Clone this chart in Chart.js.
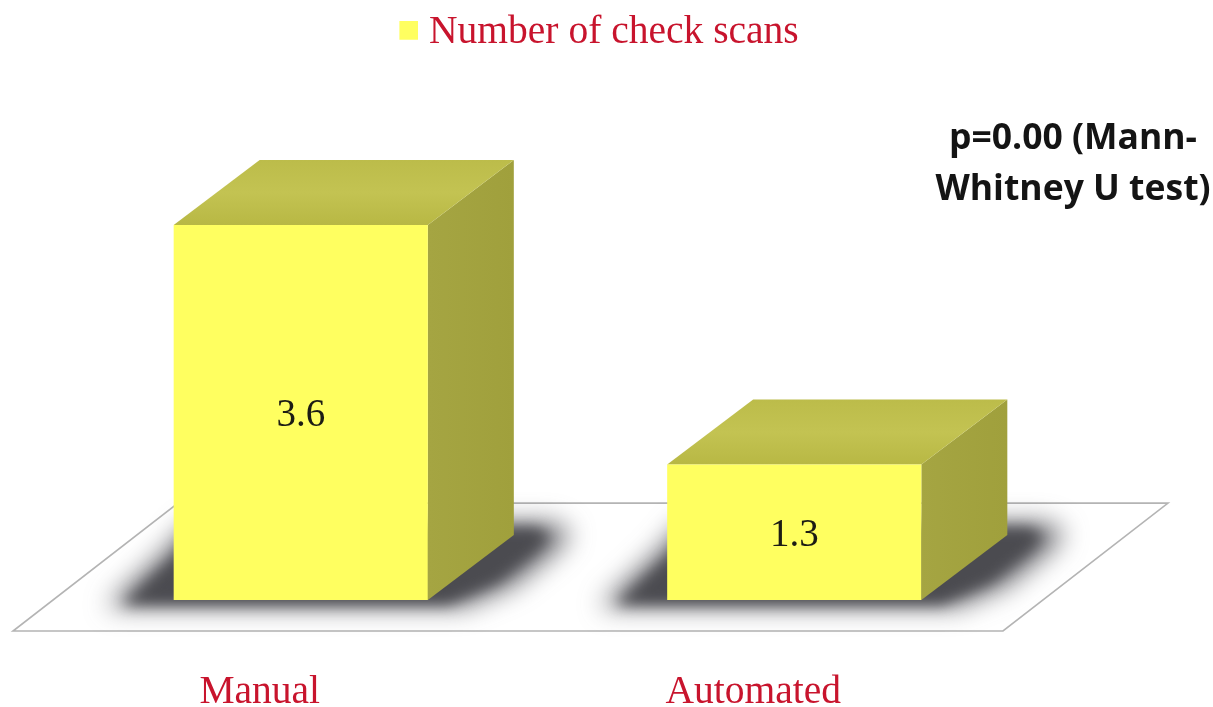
<!DOCTYPE html>
<html><head><meta charset="utf-8">
<style>html,body{margin:0;padding:0;background:#fff}canvas{display:block}</style>
<script src="https://cdn.jsdelivr.net/npm/chart.js@4/dist/chart.umd.min.js"></script>
</head><body><canvas id="c" width="1213" height="707"></canvas>
<script>
const categories = ["Manual", "Automated"];
const seriesName = "Number of check scans";
const scans = [3.6, 1.3];
const valueLabels = ["3.6", "1.3"];
const noteLines = ["p=0.00 (Mann-", "Whitney U test)"];

const RED = "#c8142d", YELLOW = "#ffff60";
const SERIF = '"Liberation Serif", serif';
const DX = 86, DY = -65;

const swatch = document.createElement("canvas");
swatch.width = 31; swatch.height = 24;
const sw = swatch.getContext("2d");
sw.fillStyle = YELLOW; sw.fillRect(12, 0, 19, 19);

function poly(ctx, pts) {
  ctx.beginPath();
  pts.forEach((p, i) => i ? ctx.lineTo(p[0], p[1]) : ctx.moveTo(p[0], p[1]));
  ctx.closePath();
}

const scene = {
  id: "scene",
  beforeLayout(chart) {
    const lg = chart.legend;
    if (lg && !lg._wrapped) {
      const f = lg.fit;
      lg.fit = function () { f.call(this); this.height = 183.3; };
      lg._wrapped = true;
    }
  },
  afterLayout(chart) {
    chart.legend.left += 50;
    chart.legend.right += 50;
  },
  beforeDatasetsDraw(chart) {
    const ctx = chart.ctx, a = chart.chartArea;
    const bars = chart.getDatasetMeta(0).data;
    // floor
    ctx.save();
    const by = a.bottom + 31, ty = a.bottom + DY * 1.49;
    poly(ctx, [[a.left - 41, by], [a.right - 38, by], [a.right + 127, ty], [a.left + 124, ty]]);
    ctx.fillStyle = "#ffffff"; ctx.fill();
    ctx.strokeStyle = "#b4b4b4"; ctx.lineWidth = 1.6; ctx.stroke();
    ctx.restore();
    // cast shadows: a wide soft pass, then a tighter dark core
    bars.forEach(b => {
      const x0 = b.x - b.width / 2, x1 = b.x + b.width / 2, y = b.base;
      ctx.save();
      ctx.filter = "blur(13px)";
      ctx.fillStyle = "rgba(70,70,76,0.75)";
      poly(ctx, [
        [x0 - 68, y + 7], [x1 + 36, y + 7], [x1 + 86, y - 14], [x1 + 126, y - 46],
        [x1 + 144, y - 66], [x1 + 126, y - 78], [x1, y - 78], [x0 + 16, y - 78],
        [x0 - 10, y - 48], [x0 - 44, y - 16]
      ]);
      ctx.fill();
      ctx.filter = "blur(7px)";
      ctx.fillStyle = "#4b4b50";
      poly(ctx, [
        [x0 - 52, y + 4], [x1 + 20, y + 4], [x1 + 70, y - 18], [x1 + 108, y - 48],
        [x1 + 122, y - 64], [x1 + 108, y - 72], [x1, y - 72], [x0 + 22, y - 72],
        [x0 + 2, y - 44], [x0 - 30, y - 14]
      ]);
      ctx.fill();
      ctx.restore();
    });
    // side and top faces
    bars.forEach(b => {
      const x0 = b.x - b.width / 2, x1 = b.x + b.width / 2, t = b.y, y = b.base;
      ctx.save();
      const gr = ctx.createLinearGradient(x1, 0, x1 + DX, 0);
      gr.addColorStop(0, "#a5a542"); gr.addColorStop(1, "#a0a03c");
      ctx.fillStyle = gr;
      poly(ctx, [[x1, t], [x1 + DX, t + DY], [x1 + DX, y + DY], [x1, y]]);
      ctx.fill();
      const gt = ctx.createLinearGradient(0, t + DY, 0, t);
      gt.addColorStop(0, "#bcbc4a"); gt.addColorStop(0.5, "#c3c352"); gt.addColorStop(1, "#b8b844");
      ctx.fillStyle = gt;
      poly(ctx, [[x0, t], [x0 + DX, t + DY], [x1 + DX, t + DY], [x1, t]]);
      ctx.fill();
      ctx.restore();
    });
  },
  afterDatasetsDraw(chart) {
    const ctx = chart.ctx;
    const bars = chart.getDatasetMeta(0).data;
    ctx.save();
    ctx.fillStyle = "#1c1c14";
    ctx.font = "39px " + SERIF;
    ctx.textAlign = "center";
    ctx.textBaseline = "middle";
    bars.forEach((b, i) => ctx.fillText(valueLabels[i], b.x, (b.y + b.base) / 2 + 3));
    ctx.fillStyle = "#141414";
    ctx.font = 'bold 35.5px "Open Sans", sans-serif';
    ctx.textBaseline = "alphabetic";
    noteLines.forEach((s, i) => ctx.fillText(s, 1073, 149 + i * 51));
    ctx.restore();
  }
};

new Chart(document.getElementById("c"), {
  type: "bar",
  data: {
    labels: categories,
    datasets: [{
      label: seriesName,
      data: scans,
      backgroundColor: YELLOW,
      borderWidth: 0,
      barPercentage: 0.515,
      categoryPercentage: 1
    }]
  },
  options: {
    responsive: false,
    animation: false,
    layout: { padding: { left: 54, right: 172, top: 0, bottom: 0 } },
    plugins: {
      tooltip: { enabled: false },
      legend: {
        display: true,
        position: "top",
        labels: {
          font: { family: SERIF, size: 39.5 },
          color: RED,
          usePointStyle: true,
          pointStyle: swatch,
          pointStyleWidth: 13,
          boxHeight: 18,
          padding: 13,
          generateLabels() {
            return [{ text: seriesName, fontColor: RED, fillStyle: YELLOW, strokeStyle: YELLOW, lineWidth: 0, pointStyle: swatch, datasetIndex: 0 }];
          }
        }
      }
    },
    scales: {
      x: {
        grid: { display: false },
        border: { display: false },
        ticks: {
          color: RED,
          font: { family: SERIF, size: 39.5 },
          labelOffset: -41,
          padding: 61,
          maxRotation: 0
        },
        afterFit(s) { s.height = 107; }
      },
      y: { display: false, min: 0, max: 4 }
    }
  },
  plugins: [scene]
});
</script></body></html>
